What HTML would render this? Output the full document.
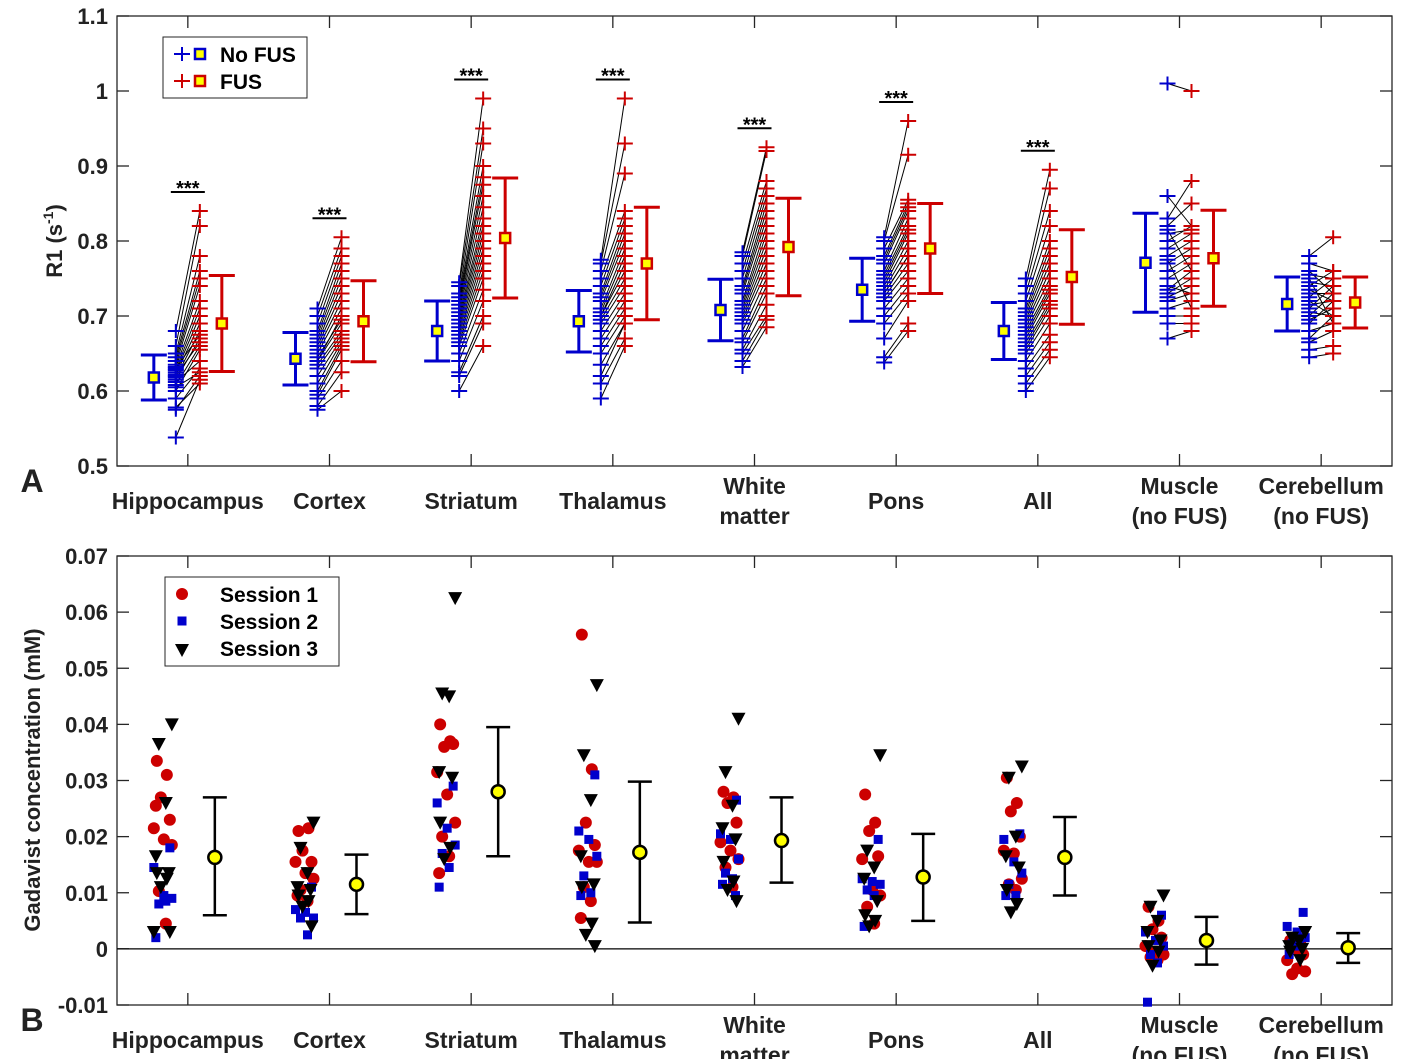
<!DOCTYPE html>
<html><head><meta charset="utf-8"><style>
html,body{margin:0;padding:0;background:#fff;}
svg{display:block;font-family:"Liberation Sans",Arial,sans-serif;font-weight:bold;}
</style></head><body>
<svg id="fig" width="1417" height="1059" viewBox="0 0 1417 1059" xmlns="http://www.w3.org/2000/svg"></svg>
<script>
// ---------- Data ----------
const categories = ["Hippocampus","Cortex","Striatum","Thalamus","White|matter","Pons","All","Muscle|(no FUS)","Cerebellum|(no FUS)"];
const r1TickLabels = ["0.5","0.6","0.7","0.8","0.9","1","1.1"];
const r1Ticks = [0.5,0.6,0.7,0.8,0.9,1.0,1.1];
const gdTickLabels = ["-0.01","0","0.01","0.02","0.03","0.04","0.05","0.06","0.07"];
const gdTicks = [-0.01,0,0.01,0.02,0.03,0.04,0.05,0.06,0.07];

const blueMean = [0.618,0.643,0.680,0.693,0.708,0.735,0.680,0.771,0.716];
const blueErr  = [0.030,0.035,0.040,0.041,0.041,0.042,0.038,0.066,0.036];
const redMean  = [0.690,0.693,0.804,0.770,0.792,0.790,0.752,0.777,0.718];
const redErr   = [0.064,0.054,0.080,0.075,0.065,0.060,0.063,0.064,0.034];
const significant = [1,1,1,1,1,1,1,0,0];

const blueVals = [
[0.538,0.575,0.578,0.59,0.6,0.605,0.608,0.612,0.615,0.618,0.62,0.622,0.625,0.628,0.63,0.632,0.635,0.64,0.645,0.65,0.66,0.68],
[0.575,0.58,0.59,0.595,0.6,0.61,0.62,0.63,0.635,0.64,0.64,0.645,0.65,0.655,0.66,0.665,0.67,0.675,0.68,0.69,0.70,0.71],
[0.60,0.62,0.625,0.64,0.65,0.66,0.665,0.67,0.675,0.68,0.685,0.69,0.695,0.70,0.705,0.71,0.715,0.72,0.725,0.73,0.74,0.745],
[0.59,0.61,0.62,0.635,0.65,0.66,0.67,0.68,0.69,0.695,0.70,0.70,0.705,0.71,0.72,0.725,0.73,0.74,0.75,0.76,0.77,0.775],
[0.632,0.64,0.65,0.655,0.665,0.67,0.68,0.69,0.695,0.70,0.705,0.71,0.715,0.72,0.73,0.735,0.74,0.75,0.76,0.77,0.78,0.785],
[0.638,0.645,0.67,0.69,0.70,0.71,0.72,0.725,0.73,0.73,0.735,0.74,0.745,0.75,0.755,0.76,0.77,0.775,0.78,0.79,0.80,0.805],
[0.60,0.61,0.62,0.63,0.64,0.65,0.655,0.66,0.665,0.67,0.675,0.68,0.685,0.69,0.695,0.70,0.705,0.71,0.72,0.73,0.74,0.75],
[0.67,0.69,0.70,0.71,0.72,0.725,0.73,0.735,0.74,0.75,0.76,0.77,0.775,0.78,0.79,0.80,0.81,0.815,0.82,0.83,0.86,1.01],
[0.645,0.655,0.665,0.67,0.68,0.69,0.695,0.70,0.705,0.71,0.715,0.72,0.725,0.73,0.735,0.74,0.745,0.75,0.755,0.76,0.77,0.78]
];
const redVals = [
[0.615,0.62,0.61,0.63,0.655,0.625,0.66,0.64,0.67,0.68,0.665,0.69,0.70,0.71,0.675,0.72,0.74,0.75,0.76,0.78,0.82,0.84],
[0.60,0.625,0.64,0.655,0.66,0.665,0.67,0.675,0.68,0.69,0.70,0.695,0.71,0.72,0.73,0.74,0.75,0.76,0.77,0.78,0.79,0.805],
[0.66,0.69,0.70,0.72,0.735,0.75,0.76,0.77,0.78,0.79,0.80,0.81,0.82,0.83,0.845,0.86,0.875,0.885,0.90,0.93,0.95,0.99],
[0.66,0.67,0.69,0.69,0.70,0.71,0.72,0.73,0.74,0.75,0.76,0.77,0.78,0.79,0.80,0.81,0.82,0.83,0.84,0.89,0.93,0.99],
[0.685,0.695,0.70,0.715,0.73,0.74,0.75,0.76,0.77,0.78,0.79,0.80,0.81,0.82,0.83,0.84,0.85,0.86,0.87,0.88,0.92,0.925],
[0.68,0.69,0.72,0.73,0.74,0.75,0.76,0.77,0.78,0.78,0.79,0.80,0.81,0.815,0.82,0.83,0.84,0.845,0.85,0.855,0.915,0.96],
[0.645,0.655,0.665,0.675,0.69,0.70,0.71,0.715,0.72,0.73,0.735,0.74,0.75,0.76,0.77,0.78,0.79,0.80,0.82,0.84,0.87,0.895],
[0.68,0.69,0.70,0.72,0.73,0.74,0.75,0.76,0.73,0.77,0.78,0.79,0.71,0.80,0.81,0.82,0.815,0.76,0.85,0.88,0.82,1.0],
[0.65,0.66,0.68,0.70,0.69,0.72,0.71,0.73,0.70,0.74,0.72,0.70,0.75,0.73,0.72,0.76,0.74,0.69,0.75,0.73,0.76,0.805]
];

const gdMean = [0.0163,0.0115,0.028,0.0172,0.0193,0.0128,0.0163,0.0015,0.0002];
const gdLow  = [0.006,0.0062,0.0165,0.0047,0.0118,0.005,0.0095,-0.0028,-0.0025];
const gdHigh = [0.027,0.0168,0.0395,0.0298,0.027,0.0205,0.0235,0.0057,0.0028];

const session1 = [
[0.0335,0.031,0.027,0.023,0.0215,0.0195,0.0185,0.0103,0.0045,0.0255],
[0.021,0.0215,0.0175,0.0155,0.0155,0.0135,0.0125,0.0105,0.0085,0.0095],
[0.040,0.037,0.036,0.0365,0.0315,0.0275,0.0225,0.02,0.0165,0.0135],
[0.056,0.032,0.0225,0.0185,0.0175,0.0155,0.0155,0.011,0.0085,0.0055],
[0.028,0.027,0.026,0.0225,0.019,0.0175,0.016,0.0145,0.011],
[0.0275,0.0225,0.021,0.0165,0.016,0.0105,0.0095,0.0075,0.0045],
[0.0305,0.026,0.0245,0.02,0.0175,0.017,0.0125,0.0115,0.0105],
[0.0075,0.005,0.0035,0.002,0.0005,-0.0005,-0.001,-0.0015,-0.002],
[0.0015,0.001,0,-0.001,-0.002,-0.0035,-0.004,-0.0045]
];
const session2 = [
[0.018,0.0145,0.0095,0.009,0.008,0.0085,0.002],
[0.011,0.007,0.0065,0.0055,0.0055,0.0025],
[0.029,0.026,0.0215,0.0185,0.017,0.0145,0.011],
[0.031,0.021,0.0195,0.0165,0.013,0.01,0.0095],
[0.0265,0.0205,0.0195,0.016,0.0135,0.0125,0.0115,0.0095],
[0.0195,0.0125,0.012,0.0115,0.0105,0.0095,0.004],
[0.0205,0.0195,0.0155,0.0135,0.0115,0.0095,0.0095],
[0.006,0.003,0.0015,0.0005,-0.001,-0.0025,-0.0095],
[0.0065,0.004,0.003,0.002,0.001,0.0005,-0.001]
];
const session3 = [
[0.040,0.0365,0.026,0.0165,0.0135,0.0135,0.0125,0.011,0.003,0.003],
[0.0225,0.018,0.0135,0.011,0.0105,0.0095,0.0085,0.0075,0.004],
[0.0625,0.0455,0.045,0.0315,0.0305,0.0225,0.018,0.016],
[0.047,0.0345,0.0265,0.0165,0.0115,0.011,0.0045,0.0025,0.0005],
[0.041,0.0315,0.0255,0.0215,0.0195,0.0155,0.012,0.0105,0.0085],
[0.0345,0.0175,0.0145,0.0125,0.0085,0.006,0.005,0.004],
[0.0325,0.0305,0.02,0.0165,0.0145,0.0105,0.008,0.0065],
[0.0095,0.0075,0.005,0.003,0.0015,0.0005,-0.0005,-0.003],
[0.003,0.002,0.0015,0.0005,0,-0.0005,-0.002]
];

// ---------- Layout ----------
const L = 117, R = 1392;
const aTop = 16, aBot = 466, bTop = 556, bBot = 1005;
const band = (R - L) / categories.length;
const xc = i => L + band * (i + 0.5);
const yA = v => aBot - (v - 0.5) / 0.6 * (aBot - aTop);
const yB = v => bBot - (v + 0.01) / 0.08 * (bBot - bTop);
const jit = [-6,4,-2,7,-9,1,9,-4,3,-7,6];

const svg = document.getElementById('fig');
const NS = 'http://www.w3.org/2000/svg';
function mk(tag, attrs, parent) {
  const e = document.createElementNS(NS, tag);
  for (const k in attrs) e.setAttribute(k, attrs[k]);
  (parent || svg).appendChild(e);
  return e;
}
function txt(s, x, y, size, anchor, parent) {
  const t = mk('text', {x: x, y: y, 'font-size': size, 'text-anchor': anchor || 'middle', fill: '#222'}, parent);
  t.textContent = s;
  return t;
}

function axes(top, bot, ticks, labels, yf, name) {
  const g = mk('g', {});
  
  
  mk('rect', {x: L, y: top, width: R - L, height: bot - top, fill: 'none', stroke: '#262626', 'stroke-width': 1.3}, g);
  ticks.forEach((v, i) => {
    const y = yf(v);
    mk('line', {x1: L, x2: L + 12, y1: y, y2: y, stroke: '#262626', 'stroke-width': 1.3}, g);
    mk('line', {x1: R, x2: R - 12, y1: y, y2: y, stroke: '#262626', 'stroke-width': 1.3}, g);
    const t = txt(labels[i], L - 9, y + 8, 22, 'end', g);
    
    
  });
  categories.forEach((c, i) => {
    const x = xc(i);
    mk('line', {x1: x, x2: x, y1: bot, y2: bot - 12, stroke: '#262626', 'stroke-width': 1.3}, g);
    mk('line', {x1: x, x2: x, y1: top, y2: top + 12, stroke: '#262626', 'stroke-width': 1.3}, g);
    const parts = c.split('|');
    const base = bot + 43;
    parts.forEach((p, j) => {
      const y = parts.length === 1 ? base : base - 15 + j * 30;
      const t = txt(p, x, y, 23, 'middle', g);
      
      
    });
  });
}

axes(aTop, aBot, r1Ticks, r1TickLabels, yA, 'panel-a-axes');
axes(bTop, bBot, gdTicks, gdTickLabels, yB, 'panel-b-axes');

const zl = mk('line', {x1: L, x2: R, y1: yB(0), y2: yB(0), stroke: '#000', 'stroke-width': 1.3});



let t = mk('text', {x: 0, y: 0, 'font-size': 22, 'text-anchor': 'middle', fill: '#222', transform: 'translate(62,241) rotate(-90)'});


t.innerHTML = 'R1 (s<tspan font-size="14" dy="-9">-1</tspan><tspan dy="9">)</tspan>';
t = mk('text', {x: 0, y: 0, 'font-size': 22, 'text-anchor': 'middle', fill: '#222', transform: 'translate(40,780) rotate(-90)'});


t.textContent = 'Gadavist concentration (mM)';
t = txt('A', 32, 492, 32, 'middle');  
t = txt('B', 32, 1031, 32, 'middle');  

// ---------- Panel A marks ----------
const BLUE = '#0000cc', RED = '#cc0000';
function cross(x, y, col, parent) {
  mk('line', {x1: x - 8, x2: x + 8, y1: y, y2: y, stroke: col, 'stroke-width': 2}, parent);
  mk('line', {x1: x, x2: x, y1: y - 7, y2: y + 7, stroke: col, 'stroke-width': 2}, parent);
}
function errbar(x, m, e, col, yf, parent) {
  mk('line', {x1: x, x2: x, y1: yf(m - e), y2: yf(m + e), stroke: col, 'stroke-width': 3}, parent);
  mk('line', {x1: x - 13, x2: x + 13, y1: yf(m - e), y2: yf(m - e), stroke: col, 'stroke-width': 3}, parent);
  mk('line', {x1: x - 13, x2: x + 13, y1: yf(m + e), y2: yf(m + e), stroke: col, 'stroke-width': 3}, parent);
}
categories.forEach((c, i) => {
  const g = mk('g', {});
  
  
  const x = xc(i), xb = x - 12, xr = x + 12;
  blueVals[i].forEach((b, k) => {
    mk('line', {x1: xb, x2: xr, y1: yA(b), y2: yA(redVals[i][k]), stroke: '#000', 'stroke-width': 1}, g);
  });
  blueVals[i].forEach(b => cross(xb, yA(b), BLUE, g));
  redVals[i].forEach(r => cross(xr, yA(r), RED, g));
  errbar(x - 34, blueMean[i], blueErr[i], BLUE, yA, g);
  errbar(x + 34, redMean[i], redErr[i], RED, yA, g);
  mk('rect', {x: x - 34 - 5, y: yA(blueMean[i]) - 5, width: 10, height: 10, fill: '#ffff00', stroke: BLUE, 'stroke-width': 2.5}, g);
  mk('rect', {x: x + 34 - 5, y: yA(redMean[i]) - 5, width: 10, height: 10, fill: '#ffff00', stroke: RED, 'stroke-width': 2.5}, g);
  if (significant[i]) {
    const top = Math.max(...redVals[i]);
    const yy = yA(top) - 19;
    mk('line', {x1: x - 17, x2: x + 17, y1: yy, y2: yy, stroke: '#000', 'stroke-width': 2}, g);
    const s = txt('***', x, yy + 3, 20, 'middle', g);
    s.setAttribute('fill', '#000');
    
    
  }
});

const la = mk('g', {});


mk('rect', {x: 163, y: 37, width: 144, height: 61, fill: '#fff', stroke: '#262626', 'stroke-width': 1}, la);
cross(182, 54, BLUE, la); cross(182, 81, RED, la);
mk('rect', {x: 195, y: 49, width: 10, height: 10, fill: '#ff0', stroke: BLUE, 'stroke-width': 2.5}, la);
mk('rect', {x: 195, y: 76, width: 10, height: 10, fill: '#ff0', stroke: RED, 'stroke-width': 2.5}, la);
t = txt('No FUS', 220, 62, 21, 'start', la); t.setAttribute('fill', '#000');
 
t = txt('FUS', 220, 89, 21, 'start', la); t.setAttribute('fill', '#000');
 

// ---------- Panel B marks ----------
function tri(x, y, parent) {
  mk('path', {d: `M${x - 7},${y - 6} L${x + 7},${y - 6} L${x},${y + 7} Z`, fill: '#000'}, parent);
}
categories.forEach((c, i) => {
  const g = mk('g', {});
  
  
  const x = xc(i), xp = x - 25;
  session1[i].forEach((v, k) => mk('circle', {cx: xp + jit[k % jit.length], cy: yB(v), r: 6, fill: RED}, g));
  session2[i].forEach((v, k) => mk('rect', {x: xp + jit[(k + 3) % jit.length] - 4.5, y: yB(v) - 4.5, width: 9, height: 9, fill: BLUE}, g));
  session3[i].forEach((v, k) => tri(xp + jit[(k + 6) % jit.length], yB(v), g));
  const xm = x + 27;
  mk('line', {x1: xm, x2: xm, y1: yB(gdLow[i]), y2: yB(gdHigh[i]), stroke: '#000', 'stroke-width': 2.5}, g);
  mk('line', {x1: xm - 12, x2: xm + 12, y1: yB(gdLow[i]), y2: yB(gdLow[i]), stroke: '#000', 'stroke-width': 2.5}, g);
  mk('line', {x1: xm - 12, x2: xm + 12, y1: yB(gdHigh[i]), y2: yB(gdHigh[i]), stroke: '#000', 'stroke-width': 2.5}, g);
  mk('circle', {cx: xm, cy: yB(gdMean[i]), r: 6.5, fill: '#ffff00', stroke: '#000', 'stroke-width': 2.5}, g);
});

const lb = mk('g', {});


mk('rect', {x: 165, y: 577, width: 174, height: 89, fill: '#fff', stroke: '#262626', 'stroke-width': 1}, lb);
mk('circle', {cx: 182, cy: 594, r: 6, fill: RED}, lb);
mk('rect', {x: 177.5, y: 616.5, width: 9, height: 9, fill: BLUE}, lb);
tri(182, 650, lb);
['Session 1', 'Session 2', 'Session 3'].forEach((s, j) => {
  const tt = txt(s, 220, 602 + j * 27, 21, 'start', lb);
  tt.setAttribute('fill', '#000');
  
  
});
</script>
</body></html>
